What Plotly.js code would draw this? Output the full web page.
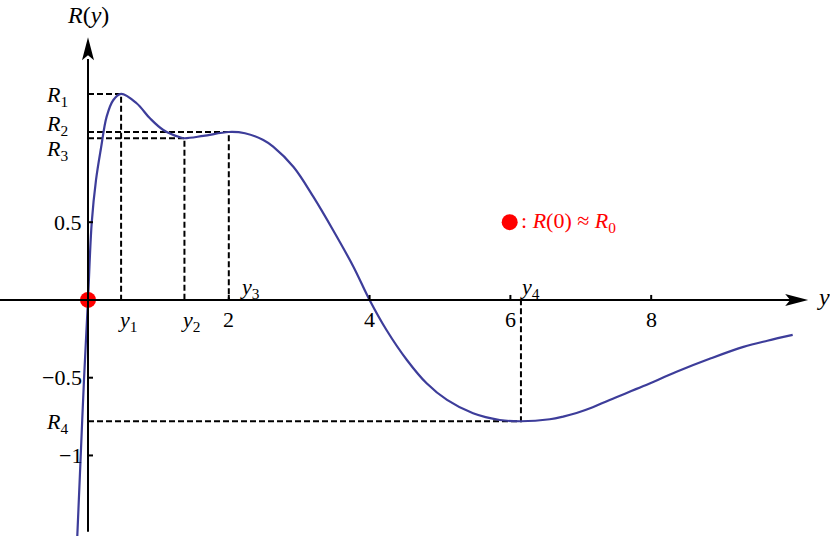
<!DOCTYPE html>
<html>
<head>
<meta charset="utf-8">
<script src="https://cdn.plot.ly/plotly-3.0.1.min.js"></script>
<style>html,body{margin:0;padding:0;background:#fff;}#chart{width:830px;height:536px;}</style>
</head>
<body>
<div id="chart"></div>
<script>
// Curve R(y)
const curveX = [-0.152,-0.104,-0.057,0,0.053,0.114,0.185,0.265,0.36,0.47,0.69,0.88,1.07,1.307,1.37,1.64,2.0,2.23,2.49,2.63,2.92,3.20,3.48,3.77,4.0,4.24,4.53,4.81,5.10,5.47,5.85,6.15,6.56,6.75,6.94,7.17,7.41,7.89,8.36,8.84,9.31,9.65,10.01];
const curveY = [-1.518,-1.008,-0.514,0,0.497,0.772,0.977,1.179,1.286,1.325,1.265,1.168,1.093,1.046,1.040,1.055,1.080,1.072,1.029,0.986,0.855,0.664,0.450,0.214,0,-0.193,-0.386,-0.536,-0.643,-0.729,-0.772,-0.780,-0.767,-0.750,-0.727,-0.690,-0.643,-0.554,-0.462,-0.377,-0.302,-0.262,-0.225];

// Marked extrema (y_i, R_i)
const markX = [0.47, 1.37, 2.0, 6.15];
const markY = [1.325, 1.040, 1.080, -0.780];

// Axis ticks
const xTicks = [2, 4, 6, 8];
const yTicks = [0.5, -0.5, -1];
const yTickLabels = ['0.5', '\u22120.5', '\u22121'];

// Note marker position (data units)
const noteX = [5.99];
const noteY = [0.50];

const curveColor = '#3d3d9a';
const serif = '"Liberation Serif", "Times New Roman", Times, serif';
const FS = 22;

// dashed helper lines
const dx = [], dy = [];
for (let i = 0; i < markX.length; i++) {
  dx.push(0, markX[i], markX[i], null);
  dy.push(markY[i], markY[i], 0, null);
}

const traces = [
  {x: dx, y: dy, mode: 'lines', line: {color: '#000', width: 2, dash: '6px,3px'}, hoverinfo: 'skip', connectgaps: false},
  {x: curveX, y: curveY, mode: 'lines', line: {color: curveColor, width: 2.2, shape: 'spline', smoothing: 1.0}, hoverinfo: 'skip'},
  {x: [0], y: [0], mode: 'markers', marker: {color: '#ff0000', size: 16}, hoverinfo: 'skip'},
  {x: noteX, y: noteY, mode: 'markers', marker: {color: '#ff0000', size: 16}, hoverinfo: 'skip'}
];

const shapes = [
  {type: 'line', xref: 'x', yref: 'y', x0: -1.3, x1: 10.0, y0: 0, y1: 0, line: {color: '#000', width: 2}},
  {type: 'line', xref: 'x', yref: 'y', x0: 0, x1: 0, y0: -1.49, y1: 1.55, line: {color: '#000', width: 2}},
  // arrowheads
  {type: 'path', xref: 'x', yref: 'y', xsizemode: 'pixel', ysizemode: 'pixel', xanchor: 10.23, yanchor: 0,
   path: 'M0,0 L-23,6 L-18,0 L-23,-6 Z', fillcolor: '#000', line: {width: 0}},
  {type: 'path', xref: 'x', yref: 'y', xsizemode: 'pixel', ysizemode: 'pixel', xanchor: 0, yanchor: 1.69,
   path: 'M0,0 L-6,-23 L0,-18 L6,-23 Z', fillcolor: '#000', line: {width: 0}}
];
xTicks.forEach(t => shapes.push({type: 'line', xref: 'x', yref: 'y', ysizemode: 'pixel', yanchor: 0, x0: t, x1: t, y0: 0, y1: 5, line: {color: '#000', width: 2}}));
yTicks.forEach(t => shapes.push({type: 'line', xref: 'x', yref: 'y', xsizemode: 'pixel', xanchor: 0, y0: t, y1: t, x0: 0, x1: 5, line: {color: '#000', width: 2}}));

const ann = [];
const font = {family: serif, size: FS, color: '#000'};
function A(o) { ann.push(Object.assign({xref: 'x', yref: 'y', showarrow: false, font: font}, o)); }

xTicks.forEach(t => A({x: t, y: 0, text: String(t), yshift: -20, xanchor: 'center', yanchor: 'middle'}));
yTicks.forEach((t, i) => A({x: 0, y: t, text: yTickLabels[i], xshift: -4, xanchor: 'right', yanchor: 'middle'}));

// y_i labels
A({x: markX[0], y: 0, text: '<i>y</i><sub>1</sub>', xshift: 6, yshift: -21, xanchor: 'center', yanchor: 'middle'});
A({x: markX[1], y: 0, text: '<i>y</i><sub>2</sub>', xshift: 6, yshift: -21, xanchor: 'center', yanchor: 'middle'});
A({x: markX[2], y: 0, text: '<i>y</i><sub>3</sub>', xshift: 21, yshift: 12, xanchor: 'center', yanchor: 'middle'});
A({x: markX[3], y: 0, text: '<i>y</i><sub>4</sub>', xshift: 9, yshift: 12, xanchor: 'center', yanchor: 'middle'});

// R_i labels
A({x: 0, y: markY[0], text: '<i>R</i><sub>1</sub>', xshift: -18, yshift: -2, xanchor: 'right', yanchor: 'middle'});
A({x: 0, y: markY[2], text: '<i>R</i><sub>2</sub>', xshift: -18, yshift: 7, xanchor: 'right', yanchor: 'middle'});
A({x: 0, y: markY[1], text: '<i>R</i><sub>3</sub>', xshift: -18, yshift: -12, xanchor: 'right', yanchor: 'middle'});
A({x: 0, y: markY[3], text: '<i>R</i><sub>4</sub>', xshift: -18, yshift: -2, xanchor: 'right', yanchor: 'middle'});

// axis titles
A({x: 0, y: 1.69, text: '<i>R</i>(<i>y</i>)', yshift: 22, xanchor: 'center', yanchor: 'middle', font: {family: serif, size: 24, color: '#000'}});
A({x: 10.23, y: 0, text: '<i>y</i>', xshift: 15, yshift: 3, xanchor: 'center', yanchor: 'middle', font: {family: serif, size: 24, color: '#000'}});

// note text
A({x: noteX[0], y: noteY[0], text: ': <i>R</i>(0) \u2248 <i>R</i><sub>0</sub>', xshift: 9, xanchor: 'left', yanchor: 'middle', font: {family: serif, size: FS, color: '#ff0000'}});

const layout = {
  width: 830, height: 536,
  margin: {l: 0, r: 0, t: 0, b: 0, pad: 0},
  paper_bgcolor: '#fff', plot_bgcolor: '#fff',
  showlegend: false,
  font: {family: serif},
  xaxis: {range: [-1.25, 10.54], visible: false, fixedrange: true},
  yaxis: {range: [-1.518, 1.929], visible: false, fixedrange: true},
  shapes: shapes,
  annotations: ann
};

Plotly.newPlot('chart', traces, layout, {staticPlot: true, displayModeBar: false});
</script>
</body>
</html>
